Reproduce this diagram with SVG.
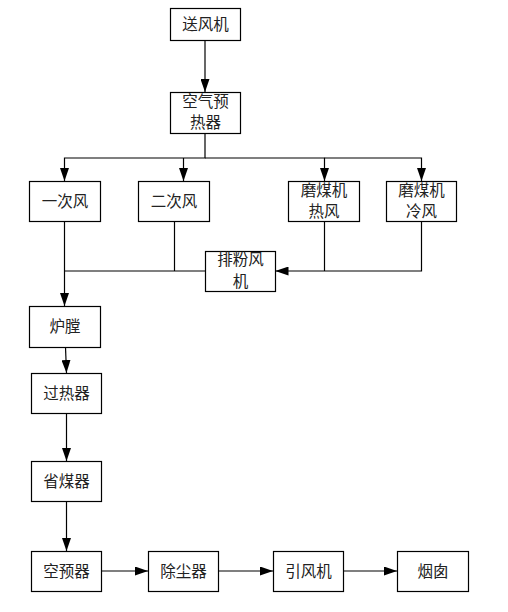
<svg xmlns="http://www.w3.org/2000/svg" width="508" height="612" viewBox="0 0 508 612">
<style>
.box{fill:#fff;stroke:#000;stroke-width:1.2}
.lbl{font-family:"Noto Sans CJK SC","Noto Sans",sans-serif;font-size:15.5px;fill:#222;text-anchor:middle}
.ln{fill:none;stroke:#000;stroke-width:1.2}
</style>
<defs>
<marker id="ah" viewBox="0 0 13 9" refX="13" refY="4.5" markerWidth="13" markerHeight="9" markerUnits="userSpaceOnUse" orient="auto">
<path d="M0,0 L13,4.5 L0,9 Z" fill="#000"/>
</marker>
</defs>
<rect width="508" height="612" fill="#fff"/>
<g id="connectors">
<path class="ln" d="M205,40 V92" marker-end="url(#ah)"/>
<path class="ln" d="M205,133 V158 H64.5 V181" marker-end="url(#ah)"/>
<path class="ln" d="M183.5,158 V181" marker-end="url(#ah)"/>
<path class="ln" d="M205,158 H324.5 V181" marker-end="url(#ah)"/>
<path class="ln" d="M324.5,158 H421.5 V181" marker-end="url(#ah)"/>
<path class="ln" d="M64.5,221 V306" marker-end="url(#ah)"/>
<path class="ln" d="M174.5,221 V271"/>
<path class="ln" d="M64.5,271 H205.5"/>
<path class="ln" d="M324.5,221 V271"/>
<path class="ln" d="M421.5,221 V271 H275.5" marker-end="url(#ah)"/>
<path class="ln" d="M65.5,347 L66.5,373" marker-end="url(#ah)"/>
<path class="ln" d="M66.5,413 V461" marker-end="url(#ah)"/>
<path class="ln" d="M66.5,501 V551" marker-end="url(#ah)"/>
<path class="ln" d="M101.5,571 H148" marker-end="url(#ah)"/>
<path class="ln" d="M218.5,571 H273" marker-end="url(#ah)"/>
<path class="ln" d="M343.5,571 H397" marker-end="url(#ah)"/>
</g>
<g id="n-songfengji"><rect class="box" x="170.5" y="8.5" width="70" height="32"/><text class="lbl" x="205.5" y="30">送风机</text></g>
<g id="n-kongqiyureqi"><rect class="box" x="170.5" y="92.5" width="70" height="41"/><text class="lbl" x="205.5" y="107">空气预</text><text class="lbl" x="205.5" y="128">热器</text></g>
<g id="n-yicifeng"><rect class="box" x="29.5" y="181.5" width="71" height="40"/><text class="lbl" x="65" y="207">一次风</text></g>
<g id="n-ercifeng"><rect class="box" x="138.5" y="181.5" width="71" height="40"/><text class="lbl" x="174" y="207">二次风</text></g>
<g id="n-momeiji-re"><rect class="box" x="288.5" y="181.5" width="71" height="40"/><text class="lbl" x="324" y="196">磨煤机</text><text class="lbl" x="324" y="217">热风</text></g>
<g id="n-momeiji-leng"><rect class="box" x="386.5" y="181.5" width="70" height="40"/><text class="lbl" x="421.5" y="196">磨煤机</text><text class="lbl" x="421.5" y="217">冷风</text></g>
<g id="n-paifenfengji"><rect class="box" x="205.5" y="251.5" width="70" height="40"/><text class="lbl" x="240.5" y="265">排粉风</text><text class="lbl" x="240.5" y="287">机</text></g>
<g id="n-lutang"><rect class="box" x="29.5" y="306.5" width="71" height="41"/><text class="lbl" x="65" y="332">炉膛</text></g>
<g id="n-guoreqi"><rect class="box" x="31.5" y="373.5" width="70" height="40"/><text class="lbl" x="66.5" y="399">过热器</text></g>
<g id="n-shengmeiqi"><rect class="box" x="31.5" y="461.5" width="70" height="40"/><text class="lbl" x="66.5" y="487">省煤器</text></g>
<g id="n-kongyuqi"><rect class="box" x="31.5" y="551.5" width="70" height="40"/><text class="lbl" x="66.5" y="577">空预器</text></g>
<g id="n-chuchenqi"><rect class="box" x="148.5" y="551.5" width="70" height="40"/><text class="lbl" x="183.5" y="577">除尘器</text></g>
<g id="n-yinfengji"><rect class="box" x="273.5" y="551.5" width="70" height="40"/><text class="lbl" x="308.5" y="577">引风机</text></g>
<g id="n-yancong"><rect class="box" x="397.5" y="551.5" width="71" height="40"/><text class="lbl" x="433" y="577">烟囱</text></g>
</svg>
